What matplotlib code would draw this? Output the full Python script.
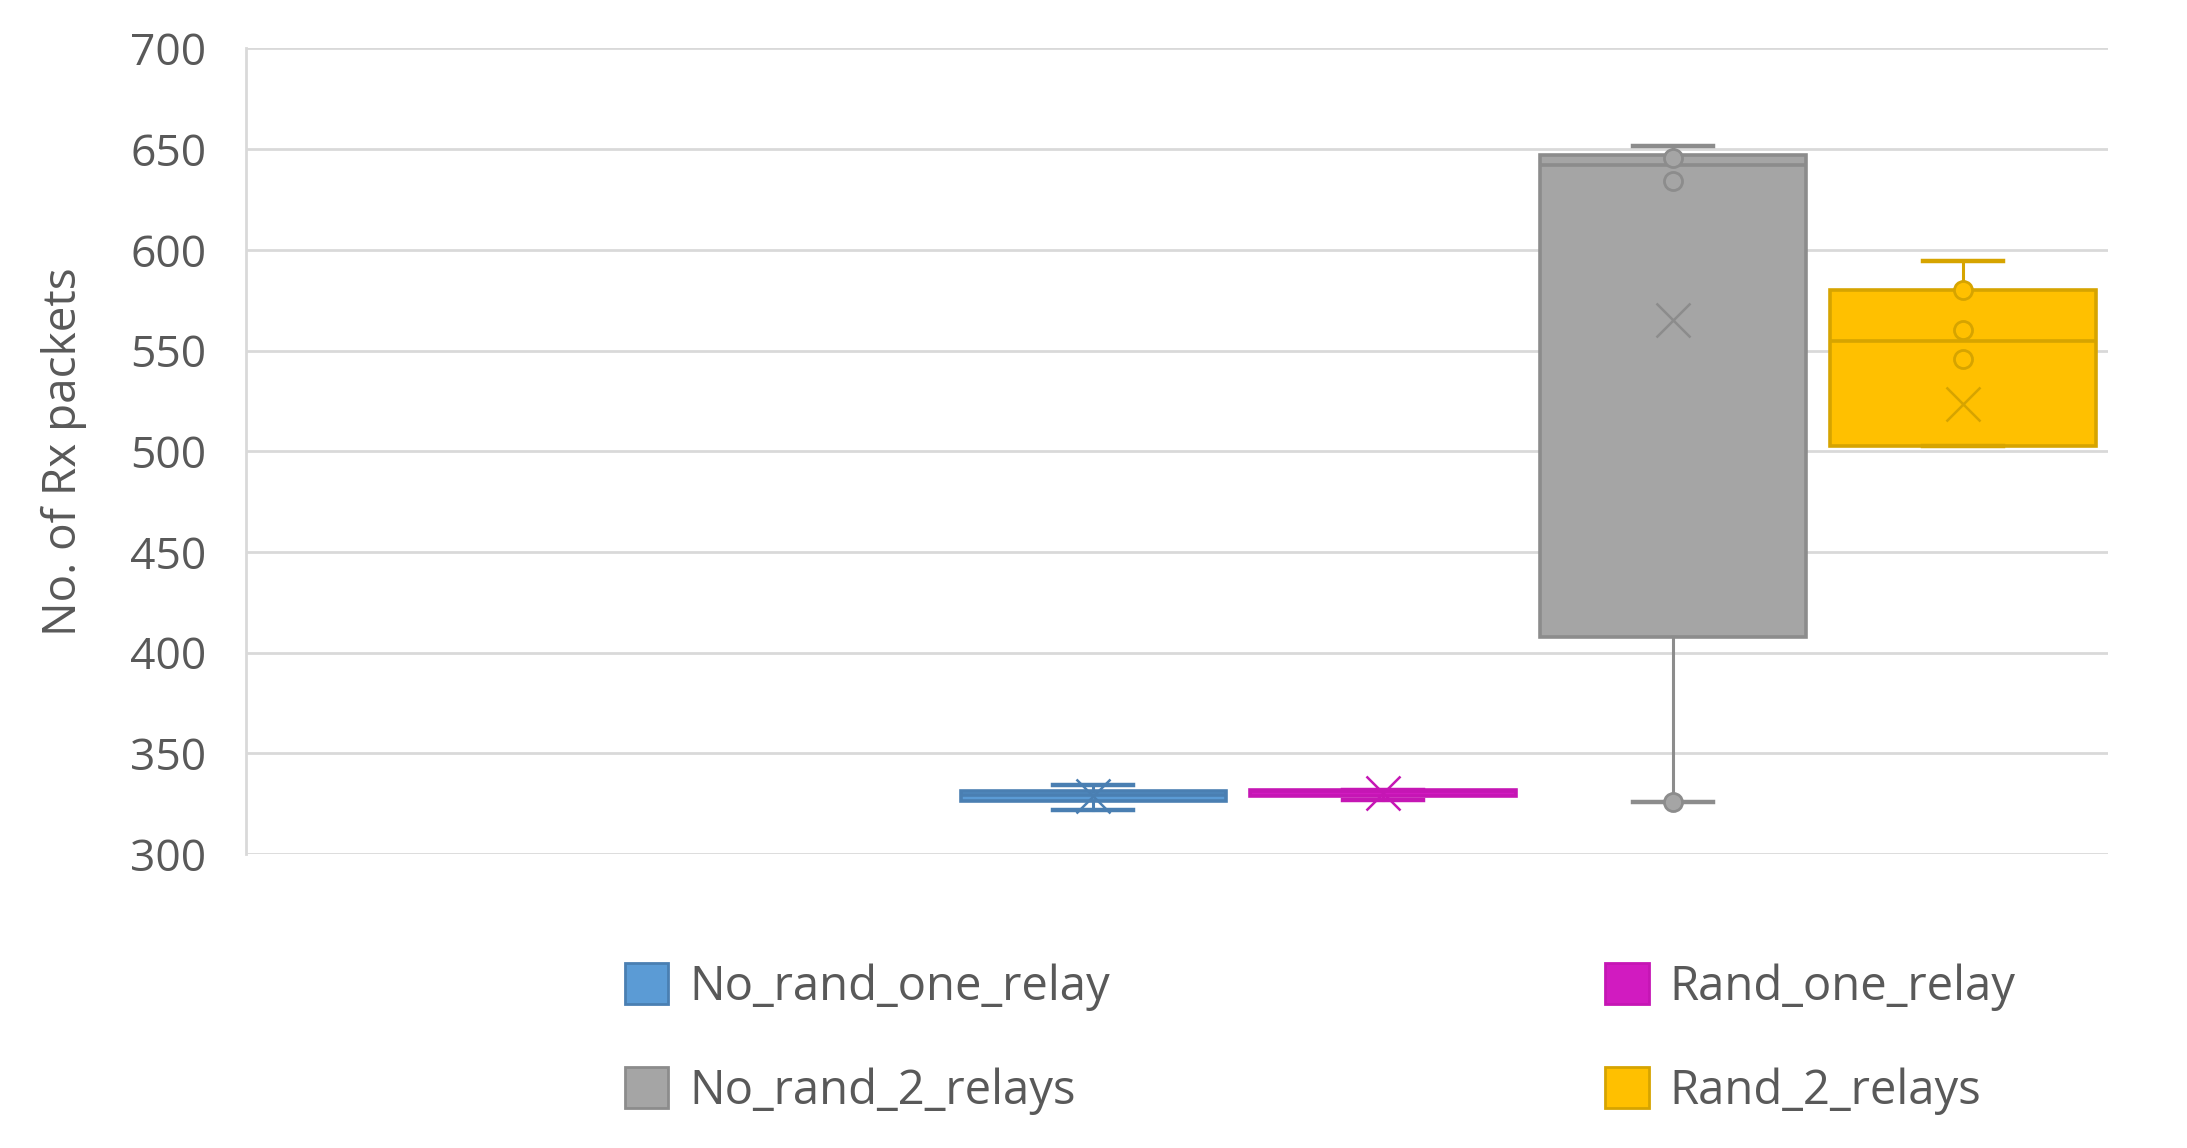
import matplotlib
matplotlib.use("Agg")
import matplotlib.pyplot as plt
from matplotlib.patches import Patch

# ---- data ----
series = ["No_rand_one_relay", "Rand_one_relay", "No_rand_2_relays", "Rand_2_relays"]
q1 = [326.5, 329.0, 407.5, 502.5]
median = [329.5, 331.5, 642.0, 554.5]
q3 = [331.5, 332.0, 647.0, 580.0]
whisker_low = [322.0, 327.0, 326.0, 502.5]
whisker_high = [334.5, 332.0, 651.7, 594.6]
means = [328.8, 330.5, 565.2, 523.3]
inner_points = [[], [], [645.5, 634.4, 326.0], [580.0, 560.0, 546.0]]

fills = ["#5b9bd5", "#d11bc0", "#a5a5a5", "#ffc000"]
edges = ["#4a7fb2", "#c516b4", "#8c8c8c", "#d6a400"]

yticks = [300, 350, 400, 450, 500, 550, 600, 650, 700]

plt.rcParams['font.family'] = ['Open Sans', 'DejaVu Sans']

W, H = 2187, 1148
fig = plt.figure(figsize=(W / 100, H / 100), dpi=100)
ax = fig.add_axes([245.5 / W, 1 - 854 / H, (2107.6 - 245.5) / W, (854 - 48.4) / H])

positions = [1, 2, 3, 4]
for i in range(4):
    st = dict(q1=q1[i], med=median[i], q3=q3[i], whislo=whisker_low[i],
              whishi=whisker_high[i], mean=means[i], fliers=[], label=series[i])
    ax.bxp([st], positions=[positions[i]], widths=0.917, capwidths=0.276,
           patch_artist=True, showmeans=True, showfliers=False,
           boxprops=dict(facecolor=fills[i], edgecolor=edges[i], linewidth=2.6),
           medianprops=dict(color=edges[i], linewidth=2.6),
           whiskerprops=dict(color=edges[i], linewidth=2.2),
           capprops=dict(color=edges[i], linewidth=3.2),
           meanprops=dict(marker='x', markeredgecolor=edges[i], markersize=25,
                          markeredgewidth=1.8), zorder=3)
    if inner_points[i]:
        ax.plot([positions[i]] * len(inner_points[i]), inner_points[i], 'o',
                markersize=13, markerfacecolor=fills[i], markeredgecolor=edges[i],
                markeredgewidth=2.0, zorder=5)

ax.set_xlim(1 - 2.926, 4.5)
ax.set_ylim(300, 700)
ax.set_yticks(yticks)
ax.set_xticks([])
ax.grid(axis='y', color='#d9d9d9', linewidth=2.0, zorder=0)
ax.set_axisbelow(True)
for s in ['top', 'right', 'bottom']:
    ax.spines[s].set_visible(False)
ax.spines['left'].set_color('#d9d9d9')
ax.spines['left'].set_linewidth(2.0)
ax.tick_params(axis='y', length=0, pad=28, labelsize=32, labelcolor='#595959')
ax.set_ylabel("No. of Rx packets", fontsize=33, color='#595959', labelpad=31)

handles = [Patch(facecolor=fills[i], edgecolor=edges[i], linewidth=2.0, label=series[i])
           for i in [0, 2, 1, 3]]
fig.legend(handles=handles, ncol=2, loc='center', bbox_to_anchor=(0.6036, 0.095),
           frameon=False, fontsize=34, labelcolor='#595959', handlelength=0.92,
           handleheight=0.96, handletextpad=0.44, columnspacing=10.5, labelspacing=1.18)

fig.savefig("out.png", dpi=100, facecolor='white')
